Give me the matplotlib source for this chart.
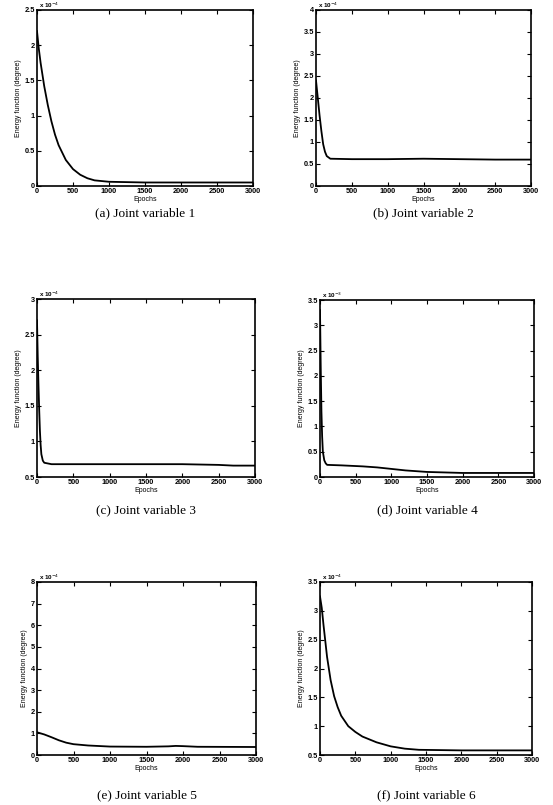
import matplotlib
matplotlib.use("Agg")
import matplotlib.pyplot as plt

plt.rcParams['font.family'] = ['Liberation Sans', 'DejaVu Sans']

# values, y in units of the "x 10^n" note on each panel
ep_a = [0, 25, 50, 100, 150, 200, 250, 300, 400, 500, 600, 700, 800, 1000, 1500, 2000, 2500, 3000]
en_a = [2.2, 1.95, 1.75, 1.42, 1.15, 0.92, 0.73, 0.58, 0.37, 0.24, 0.16, 0.11, 0.08, 0.06, 0.05, 0.05, 0.05, 0.05]

ep_b = [0, 25, 50, 75, 100, 125, 150, 200, 500, 1000, 1500, 2000, 2500, 3000]
en_b = [2.4, 2.0, 1.6, 1.25, 0.95, 0.78, 0.68, 0.62, 0.61, 0.61, 0.62, 0.61, 0.6, 0.6]

ep_c = [0, 10, 20, 30, 40, 50, 60, 80, 100, 200, 1000, 2000, 2500, 2700, 3000]
en_c = [2.7, 2.2, 1.8, 1.45, 1.15, 0.95, 0.82, 0.73, 0.70, 0.68, 0.68, 0.68, 0.67, 0.66, 0.66]

ep_d = [0, 10, 20, 30, 40, 60, 80, 100, 300, 600, 800, 1000, 1200, 1500, 2000, 2500, 3000]
en_d = [3.3, 2.2, 1.3, 0.8, 0.5, 0.33, 0.27, 0.24, 0.23, 0.21, 0.19, 0.16, 0.13, 0.1, 0.08, 0.08, 0.08]

ep_e = [0, 100, 200, 300, 400, 500, 700, 1000, 1500, 1800, 1900, 2000, 2200, 3000]
en_e = [1.05, 0.95, 0.82, 0.68, 0.57, 0.5, 0.44, 0.39, 0.38, 0.4, 0.42, 0.41, 0.38, 0.37]

ep_f = [0, 25, 50, 100, 150, 200, 250, 300, 400, 500, 600, 800, 1000, 1200, 1400, 2000, 3000]
en_f = [3.25, 3.05, 2.75, 2.2, 1.8, 1.52, 1.33, 1.18, 1.0, 0.9, 0.82, 0.72, 0.65, 0.61, 0.59, 0.58, 0.58]

captions = ["(a) Joint variable 1", "(b) Joint variable 2", "(c) Joint variable 3",
            "(d) Joint variable 4", "(e) Joint variable 5", "(f) Joint variable 6"]
powers = [-4, -4, -4, -3, -4, -4]
ylims = [(0, 2.5), (0, 4), (0.5, 3), (0, 3.5), (0, 8), (0.5, 3.5)]
ysteps = [0.5, 0.5, 0.5, 0.5, 1, 0.5]
xticks = [0, 500, 1000, 1500, 2000, 2500, 3000]

W, H = 553, 805
fig = plt.figure(figsize=(W / 100, H / 100), dpi=100)

# axes boxes in pixels: left, top, right, bottom
boxes = [(37, 10, 253, 186), (316, 10, 531, 186),
         (37, 299, 255, 477), (320, 300, 534, 477),
         (37, 582, 256, 755), (320, 582, 532, 755)]
cap_y = [213, 213, 510, 510, 795, 795]

series = [(ep_a, en_a), (ep_b, en_b), (ep_c, en_c), (ep_d, en_d), (ep_e, en_e), (ep_f, en_f)]

for i in range(6):
    l, t, r, b = boxes[i]
    ax = fig.add_axes([l / W, 1 - b / H, (r - l) / W, (b - t) / H])
    x, y = series[i]
    ax.plot(x, y, color='black', lw=1.3)
    ax.set_xlim(0, 3000)
    lo, hi = ylims[i]
    ax.set_ylim(lo, hi)
    yt = []
    v = lo
    while v <= hi + 1e-9:
        yt.append(round(v, 2))
        v += ysteps[i]
    ax.set_yticks(yt)
    ax.set_yticklabels(['%g' % k for k in yt])
    ax.set_xticks(xticks)
    ax.tick_params(direction='in', top=True, right=True, length=3, width=0.8,
                   labelsize=5.3, pad=1.5)
    for lab in ax.get_xticklabels() + ax.get_yticklabels():
        lab.set_fontweight('bold')
    for s in ax.spines.values():
        s.set_linewidth(1.2)
    ax.set_xlabel("Epochs", fontsize=5, labelpad=0.5)
    ax.set_ylabel("Energy function (degree)", fontsize=5, labelpad=2)
    # multiplier note sits just above the top-left corner
    fig.text((l + 2) / W, 1 - (t - 9) / H, r'x 10$^{%d}$' % powers[i],
             fontsize=4.5, fontweight='bold', va='top', ha='left')
    fig.text((l + r) / 2 / W, 1 - cap_y[i] / H, captions[i], ha='center', va='center',
             fontsize=9.5, family='Liberation Serif')

fig.savefig('out.png', dpi=100)
